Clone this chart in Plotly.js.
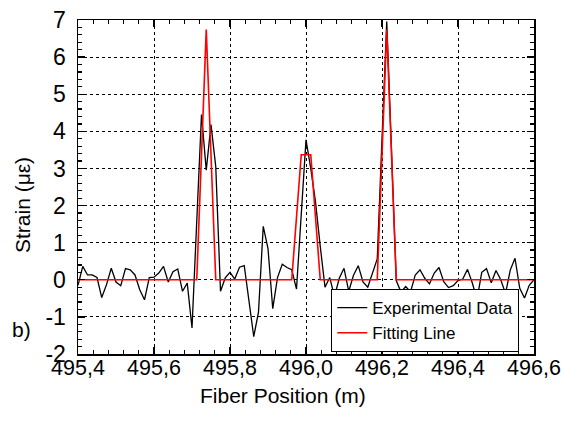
<!DOCTYPE html>
<html>
<head>
<meta charset="utf-8">
<script src="https://cdn.plot.ly/plotly-3.0.1.min.js"></script>
<style>html,body{margin:0;padding:0;background:#fff}#chart{width:561px;height:421px}</style>
</head>
<body>
<div id="chart"></div>
<script>
// Experimental data: fiber position (m) and strain (µε)
const expX = [495.4,495.4125,495.425,495.4375,495.45,495.4625,495.475,495.4875,495.5,495.5125,
  495.525,495.5375,495.55,495.5625,495.575,495.5875,495.6,495.6125,495.625,495.6375,
  495.65,495.6625,495.675,495.6875,495.7,495.7125,495.725,495.7375,495.75,495.7625,
  495.775,495.7875,495.8,495.8125,495.825,495.8375,495.85,495.8625,495.875,495.8875,
  495.9,495.9125,495.925,495.9375,495.95,495.9625,495.975,495.9875,496.0,496.0125,
  496.025,496.0375,496.05,496.0625,496.075,496.0875,496.1,496.1125,496.125,496.1375,
  496.15,496.1625,496.175,496.1875,496.2,496.2125,496.225,496.2375,496.25,496.2625,
  496.275,496.2875,496.3,496.3125,496.325,496.3375,496.35,496.3625,496.375,496.3875,
  496.4,496.4125,496.425,496.4375,496.45,496.4625,496.475,496.4875,496.5,496.5125,
  496.525,496.5375,496.55,496.5625,496.575,496.5875,496.6];
const expY = [-0.15,0.36,0.13,0.13,0.06,-0.48,-0.13,0.31,-0.06,-0.16,
  0.30,0.27,0.13,-0.27,-0.54,0.06,0.07,0.18,0.36,-0.06,
  0.22,0.29,-0.31,-0.09,-1.30,1.6,4.45,2.95,4.18,3.05,
  -0.31,0.05,0.20,0.02,0.34,0.38,-0.55,-1.53,-0.87,1.44,
  0.84,-0.78,0.06,0.42,0.33,0.27,-0.25,1.75,3.77,3.0,
  2.1,0.9,-0.2,0.06,-0.45,0.04,0.31,-0.31,0.12,0.38,
  -0.06,-0.2,0.18,0.56,3.8,6.96,3.5,-0.02,-0.33,-0.18,
  -0.33,0.13,0.27,0.04,-0.11,0.18,0.33,-0.05,-0.21,-0.16,
  -0.02,0.02,0.28,-0.08,-0.53,0.2,0.3,-0.08,0.25,0.0,
  -0.37,0.26,0.58,-0.23,-0.49,-0.15,0.0];

// Fitting line vertices
const fitX = [495.4,495.7125,495.7375,495.7625,495.9625,495.9875,496.0125,496.0375,496.1875,496.2125,496.2375,496.6];
const fitY = [0,0,6.74,0,0,3.37,3.37,0,0,6.74,0,0];

// Tick labels
const xTickVals = [495.4,495.6,495.8,496.0,496.2,496.4,496.6];
const xTickText = ['495,4','495,6','495,8','496,0','496,2','496,4','496,6'];
const yTickVals = [-2,-1,0,1,2,3,4,5,6,7];
const yTickText = ['-2','-1','0','1','2','3','4','5','6','7'];

const FONT = '"Liberation Sans", Arial, sans-serif';

const traces = [
  {x: expX, y: expY, type: 'scatter', mode: 'lines', name: 'Experimental Data',
   line: {color: '#000000', width: 1.3}},
  {x: fitX, y: fitY, type: 'scatter', mode: 'lines', name: 'Fitting Line',
   line: {color: '#ff0000', width: 1.6}}
];

const axisCommon = {
  showline: true, linecolor: '#000', linewidth: 1.5, mirror: 'ticks',
  ticks: 'inside', ticklen: 7, tickwidth: 1.3, tickcolor: '#000',
  showgrid: true, gridcolor: '#000', gridwidth: 1, griddash: 'dot',
  zeroline: false, ticklabeloverflow: 'allow'
};

const layout = {
  width: 561, height: 421,
  margin: {l: 78, r: 27, t: 20, b: 67, pad: 0},
  paper_bgcolor: '#fff', plot_bgcolor: '#fff',
  font: {family: FONT, color: '#000'},
  showlegend: true,
  legend: {x: 0.555, y: 0.195, xanchor: 'left', yanchor: 'top',
    bgcolor: '#fff', bordercolor: '#000', borderwidth: 1.2,
    font: {family: FONT, size: 17, color: '#000'}, tracegroupgap: 0},
  xaxis: Object.assign({}, axisCommon, {
    range: [495.4, 496.6], tickmode: 'array', tickvals: xTickVals, ticktext: xTickText,
    ticklabelstandoff: -6,
    tickfont: {family: FONT, size: 21.5, color: '#000'},
    minor: {dtick: 0.04, tick0: 495.4, ticks: 'inside', ticklen: 4, tickwidth: 1.2, tickcolor: '#000', showgrid: false}
  }),
  yaxis: Object.assign({}, axisCommon, {
    range: [-2, 7], tickmode: 'array', tickvals: yTickVals, ticktext: yTickText,
    ticklabelstandoff: 6,
    tickfont: {family: FONT, size: 23, color: '#000'},
    minor: {dtick: 0.2, tick0: 0, ticks: 'inside', ticklen: 4, tickwidth: 1.2, tickcolor: '#000', showgrid: false}
  }),
  annotations: [
    {text: 'Fiber Position (m)', xref: 'paper', yref: 'paper', x: 0.4496, y: -0.1257,
     xanchor: 'center', yanchor: 'middle', showarrow: false, font: {family: FONT, size: 21, color: '#000'}},
    {text: 'Strain (\u03bc\u03b5)', xref: 'paper', yref: 'paper', x: -0.1228, y: 0.446,
     xanchor: 'center', yanchor: 'middle', textangle: -90, showarrow: false, font: {family: FONT, size: 21, color: '#000'}},
    {text: 'b)', xref: 'paper', yref: 'paper', x: -0.125, y: 0.072,
     xanchor: 'center', yanchor: 'middle', showarrow: false, font: {family: FONT, size: 21, color: '#000'}}
  ]
};

Plotly.newPlot('chart', traces, layout, {displayModeBar: false, staticPlot: true});
</script>
</body>
</html>
